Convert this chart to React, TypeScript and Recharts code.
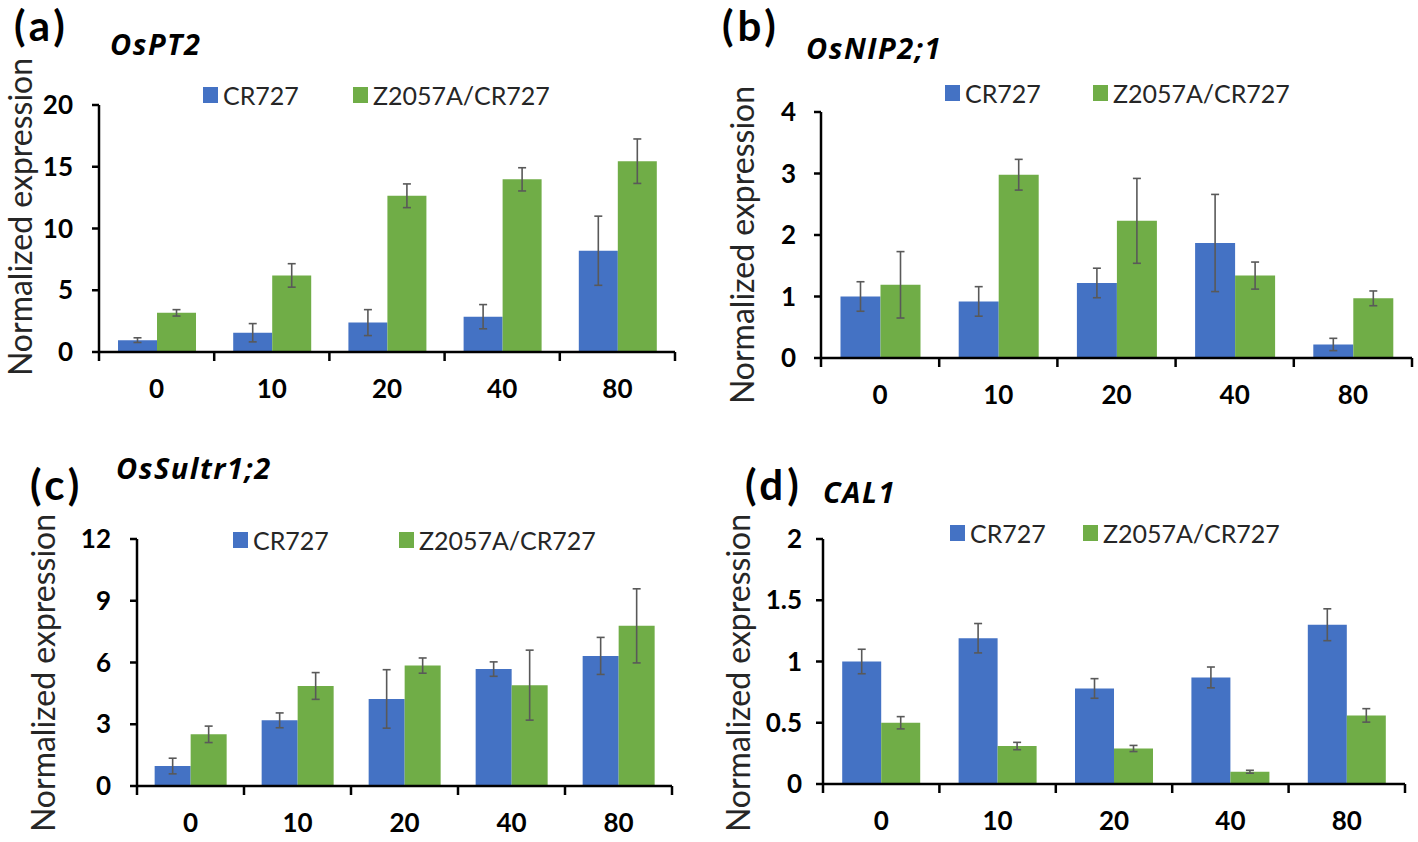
import React from 'react';
import { BarChart, Bar, XAxis, YAxis, ErrorBar, Legend } from 'recharts';

// ---------- data ----------
const categories = ['0', '10', '20', '40', '80'];
const seriesNames = ['CR727', 'Z2057A/CR727'];

const osPT2Cr = [0.96, 1.56, 2.38, 2.86, 8.2];
const osPT2CrErr = [0.19, 0.74, 1.05, 0.98, 2.8];
const osPT2Z = [3.17, 6.2, 12.65, 13.98, 15.45];
const osPT2ZErr = [0.26, 0.95, 0.96, 0.94, 1.8];

const osNIPCr = [1.0, 0.92, 1.22, 1.87, 0.22];
const osNIPCrErr = [0.24, 0.24, 0.24, 0.79, 0.1];
const osNIPZ = [1.19, 2.98, 2.23, 1.34, 0.97];
const osNIPZErr = [0.54, 0.25, 0.69, 0.22, 0.12];

const osSultrCr = [0.97, 3.19, 4.23, 5.68, 6.32];
const osSultrCrErr = [0.38, 0.36, 1.42, 0.35, 0.9];
const osSultrZ = [2.51, 4.86, 5.85, 4.9, 7.78];
const osSultrZErr = [0.4, 0.65, 0.37, 1.7, 1.8];

const cal1Cr = [1.0, 1.19, 0.78, 0.87, 1.3];
const cal1CrErr = [0.1, 0.12, 0.08, 0.085, 0.13];
const cal1Z = [0.5, 0.31, 0.29, 0.1, 0.56];
const cal1ZErr = [0.05, 0.03, 0.025, 0.012, 0.055];

const ticksA = [0, 5, 10, 15, 20];
const ticksB = [0, 1, 2, 3, 4];
const ticksC = [0, 3, 6, 9, 12];
const ticksD = [0, 0.5, 1, 1.5, 2];

const yTitle = 'Normalized expression';

function buildRows(cr: number[], crErr: number[], z: number[], zErr: number[]) {
  return categories.map((c, i) => ({ cat: c, cr: cr[i], crErr: crErr[i], z: z[i], zErr: zErr[i] }));
}

// ---------- styles ----------
const BLUE = '#4472C4';
const GREEN = '#70AD47';
const ERR = '#595959';
const FONT = 'Lato, "Open Sans", sans-serif';
const GENE_FONT = '"Open Sans", Lato, sans-serif';

type PanelCfg = {
  letter: string;
  gene: string;
  left: number;
  top: number;
  w: number;
  h: number;
  plot: { l: number; r: number; t: number; b: number };
  ticks: number[];
  rows: any[];
  tickGap: number;
  yTitleX: number;
  yTitleY: number;
  letterX: number;
  letterY: number;
  geneX: number;
  geneY: number;
  legendX: number;
  legendY: number;
  legendGap: number;
};

const panels: PanelCfg[] = [
  {
    letter: '(a)', gene: 'OsPT2', left: 0, top: 0, w: 709, h: 421,
    plot: { l: 99, r: 675, t: 105, b: 352 }, ticks: ticksA, tickGap: 26,
    rows: buildRows(osPT2Cr, osPT2CrErr, osPT2Z, osPT2ZErr),
    yTitleX: 21, yTitleY: 217, letterX: 14, letterY: 41, geneX: 110, geneY: 55,
    legendX: 203, legendY: 87, legendGap: 54,
  },
  {
    letter: '(b)', gene: 'OsNIP2;1', left: 709, top: 0, w: 709, h: 421,
    plot: { l: 821, r: 1412, t: 112, b: 358 }, ticks: ticksB, tickGap: 25,
    rows: buildRows(osNIPCr, osNIPCrErr, osNIPZ, osNIPZErr),
    yTitleX: 743, yTitleY: 245, letterX: 722, letterY: 41, geneX: 806, geneY: 59,
    legendX: 945, legendY: 85, legendGap: 52,
  },
  {
    letter: '(c)', gene: 'OsSultr1;2', left: 0, top: 421, w: 709, h: 421,
    plot: { l: 137, r: 672, t: 539, b: 786 }, ticks: ticksC, tickGap: 26,
    rows: buildRows(osSultrCr, osSultrCrErr, osSultrZ, osSultrZErr),
    yTitleX: 44, yTitleY: 673, letterX: 30, letterY: 500, geneX: 116, geneY: 479,
    legendX: 233, legendY: 532, legendGap: 70,
  },
  {
    letter: '(d)', gene: 'CAL1', left: 709, top: 421, w: 709, h: 421,
    plot: { l: 823, r: 1405, t: 539, b: 784 }, ticks: ticksD, tickGap: 21,
    rows: buildRows(cal1Cr, cal1CrErr, cal1Z, cal1ZErr),
    yTitleX: 739, yTitleY: 673, letterX: 745, letterY: 500, geneX: 823, geneY: 503,
    legendX: 950, legendY: 525, legendGap: 37,
  },
];

// ---------- pieces ----------
const XTick = (props: any) => {
  const { x, y, payload, index, band } = props;
  const half = band / 2;
  const last = index === categories.length - 1;
  return (
    <g>
      <line x1={x - half} x2={x - half} y1={y} y2={y + 9} stroke="#000" strokeWidth={2.5} />
      {last && <line x1={x + half} x2={x + half} y1={y} y2={y + 9} stroke="#000" strokeWidth={2.5} />}
      <text x={x} y={y + 28} dy="0.71em" textAnchor="middle" fontFamily={FONT} fontWeight={700} fontSize={26} fill="#000">
        {payload.value}
      </text>
    </g>
  );
};

const YTick = (props: any) => {
  const { y, payload, axisX, gap } = props;
  return (
    <text x={axisX - gap} y={y} dy="0.355em" textAnchor="end" fontFamily={FONT} fontWeight={700} fontSize={26} fill="#000">
      {payload.value}
    </text>
  );
};

const LegendContent = (props: any) => {
  const { payload, gap } = props;
  return (
    <div style={{ display: 'flex', alignItems: 'center', whiteSpace: 'nowrap' }}>
      {(payload || []).map((item: any, i: number) => (
        <div key={i} style={{ display: 'flex', alignItems: 'center', marginRight: i === 0 ? gap : 0 }}>
          <div style={{ width: 15, height: 16, background: item.color, marginRight: 5 }} />
          <span style={{ fontFamily: FONT, fontSize: 25, color: '#262626', lineHeight: '16px' }}>{item.value}</span>
        </div>
      ))}
    </div>
  );
};

const Panel = ({ cfg }: { cfg: PanelCfg }) => {
  const { plot } = cfg;
  const yAxisWidth = plot.l - cfg.left;
  const marginRight = cfg.left + cfg.w - plot.r;
  const marginTop = plot.t - cfg.top;
  const below = cfg.top + cfg.h - plot.b;
  const band = (plot.r - plot.l) / categories.length;
  const yMax = cfg.ticks[cfg.ticks.length - 1];
  return (
    <div style={{ position: 'absolute', left: cfg.left, top: cfg.top, width: cfg.w, height: cfg.h }}>
      <BarChart
        width={cfg.w}
        height={cfg.h}
        data={cfg.rows}
        margin={{ top: marginTop, right: marginRight, bottom: 4, left: 0 }}
        barCategoryGap="16.5%"
        barGap={0}
      >
        <XAxis
          dataKey="cat"
          interval={0}
          height={below - 4}
          tickLine={false}
          tickSize={0}
          tickMargin={0}
          axisLine={{ stroke: '#000', strokeWidth: 2.5 }}
          tick={<XTick band={band} />}
        />
        <YAxis
          width={yAxisWidth}
          domain={[0, yMax]}
          ticks={cfg.ticks}
          interval={0}
          allowDataOverflow
          axisLine={{ stroke: '#000', strokeWidth: 2.5 }}
          tickLine={{ stroke: '#000', strokeWidth: 2.5 }}
          tickSize={7}
          tick={<YTick axisX={yAxisWidth} gap={cfg.tickGap} />}
        />
        <Legend
          layout="vertical"
          verticalAlign="middle"
          align="center"
          content={<LegendContent gap={cfg.legendGap} />}
          wrapperStyle={{ position: 'absolute', left: cfg.legendX - cfg.left, top: cfg.legendY - cfg.top, width: 'auto' }}
        />
        <Bar dataKey="cr" name={seriesNames[0]} fill={BLUE} isAnimationActive={false}>
          <ErrorBar dataKey="crErr" width={4} stroke={ERR} strokeWidth={1.6} />
        </Bar>
        <Bar dataKey="z" name={seriesNames[1]} fill={GREEN} isAnimationActive={false}>
          <ErrorBar dataKey="zErr" width={4} stroke={ERR} strokeWidth={1.6} />
        </Bar>
      </BarChart>
    </div>
  );
};

export default function App() {
  return (
    <div style={{ position: 'absolute', left: 0, top: 0, width: 1418, height: 842, background: '#fff', overflow: 'hidden' }}>
      {panels.map((p) => (
        <Panel key={p.letter} cfg={p} />
      ))}
      <svg width={1418} height={842} style={{ position: 'absolute', left: 0, top: 0, pointerEvents: 'none' }}>
        {panels.map((p) => (
          <g key={p.letter}>
            <text x={p.letterX} y={p.letterY} fontFamily={FONT} fontWeight={700} fontSize={42} letterSpacing={4} fill="#000">
              {p.letter}
            </text>
            <text x={p.geneX} y={p.geneY} fontFamily={GENE_FONT} fontWeight={700} fontStyle="italic" fontSize={29} letterSpacing={1.5} fill="#000">
              {p.gene}
            </text>
            <text
              x={p.yTitleX}
              y={p.yTitleY}
              dy="0.355em"
              textAnchor="middle"
              transform={`rotate(-90, ${p.yTitleX}, ${p.yTitleY})`}
              fontFamily={FONT}
              fontSize={32}
              fill="#262626"
            >
              {yTitle}
            </text>
          </g>
        ))}
      </svg>
    </div>
  );
}
